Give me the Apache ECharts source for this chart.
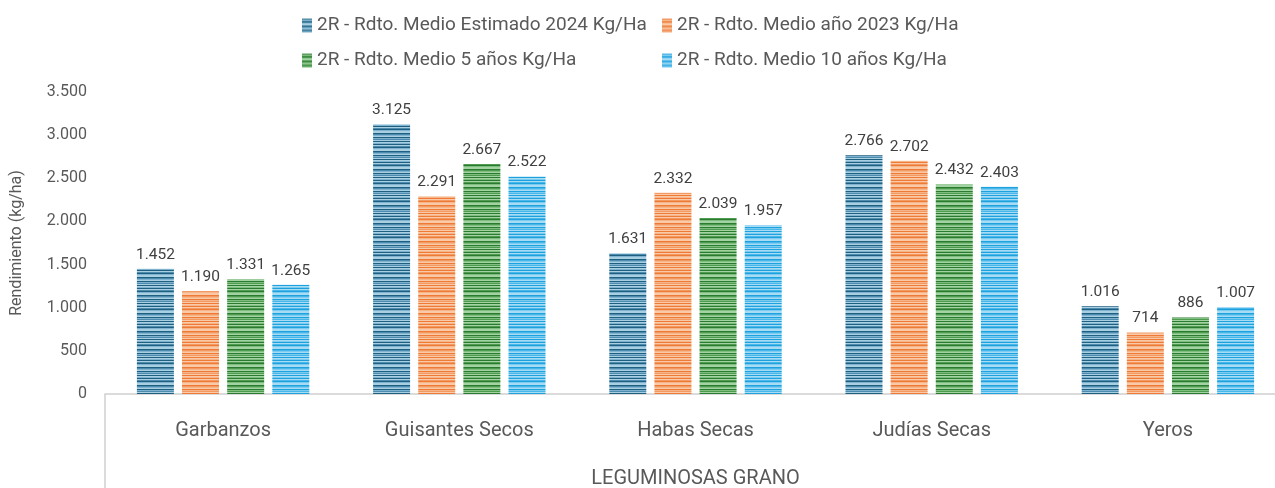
<!DOCTYPE html>
<html>
<head>
<meta charset="UTF-8">
<title>Leguminosas grano</title>
<script src="https://cdn.jsdelivr.net/npm/echarts@6/dist/echarts.min.js"></script>
<style>
  html, body { margin: 0; padding: 0; background: #fff; }
</style>
</head>
<body>
<div id="main" style="width: 1275px; height: 488px;"></div>
<script>
const categories = ['Garbanzos', 'Guisantes Secos', 'Habas Secas', 'Judías Secas', 'Yeros'];
const seriesNames = [
  '2R - Rdto. Medio Estimado 2024 Kg/Ha',
  '2R - Rdto. Medio año 2023 Kg/Ha',
  '2R - Rdto. Medio 5 años Kg/Ha',
  '2R - Rdto. Medio 10 años Kg/Ha'
];
const est2024 = [1452, 3125, 1631, 2766, 1016];
const med2023 = [1190, 2291, 2332, 2702, 714];
const med5 = [1331, 2667, 2039, 2432, 886];
const med10 = [1265, 2522, 1957, 2403, 1007];
const yTicks = [0, 500, 1000, 1500, 2000, 2500, 3000, 3500];

// striped fills, like the Excel texture
const palettes = [
  ['#1f5f80', '#a9cfe2', '#4d8cae', '#7fb2cf'],
  ['#ee7a36', '#f9c9a8', '#f29a62', '#f6b489'],
  ['#2a7a30', '#a3d3a3', '#4f9c50', '#7dbd7d'],
  ['#1ea2de', '#a8dcf5', '#4ab7ea', '#7ccbf1']
];
const rows = [0, 1, 2, 0, 3, 1, 1, 0, 2, 3, 1, 0, 3, 2, 1, 0, 1, 3];
function stripes(p) {
  const c = document.createElement('canvas');
  c.width = 4; c.height = rows.length;
  const ctx = c.getContext('2d');
  rows.forEach((r, i) => { ctx.fillStyle = p[r]; ctx.fillRect(0, i, 4, 1); });
  return { image: c, repeat: 'repeat' };
}

const fmt = v => String(v).replace(/\B(?=(\d{3})+(?!\d))/g, '.');
const font = 'Roboto, "Liberation Sans", sans-serif';
const values = [est2024, med2023, med5, med10];

const legendBase = {
  orient: 'vertical', top: 11, itemGap: 16,
  itemWidth: 10, itemHeight: 14, icon: 'rect',
  textStyle: { fontSize: 19, color: '#595959', fontFamily: font }
};

const chart = echarts.init(document.getElementById('main'));
chart.setOption({
  animation: false,
  textStyle: { fontFamily: font },
  legend: [
    Object.assign({ data: [seriesNames[0], seriesNames[2]], left: 297 }, legendBase),
    Object.assign({ data: [seriesNames[1], seriesNames[3]], left: 657 }, legendBase)
  ],
  grid: { left: 105, top: 92, width: 1181, height: 302, outerBoundsMode: 'none', containLabel: false },
  xAxis: {
    type: 'category',
    data: categories,
    name: 'LEGUMINOSAS GRANO',
    nameLocation: 'middle',
    nameGap: 75,
    nameTextStyle: { fontSize: 20, color: '#595959' },
    axisLine: { lineStyle: { color: '#d0d0d0', width: 1.5 } },
    axisTick: { show: true, length: 100, interval: (i) => i === 0, lineStyle: { color: '#d0d0d0', width: 1.5 } },
    axisLabel: { fontSize: 20, color: '#595959', margin: 27 }
  },
  yAxis: {
    type: 'value',
    min: 0, max: 3500, interval: 500,
    name: 'Rendimiento (kg/ha)',
    nameLocation: 'middle',
    nameGap: 80,
    nameTextStyle: { fontSize: 16, color: '#595959' },
    axisLine: { show: false },
    axisTick: { show: false },
    splitLine: { show: false },
    axisLabel: { fontSize: 16, color: '#595959', margin: 18, formatter: v => fmt(v) }
  },
  series: values.map((vals, i) => ({
    name: seriesNames[i],
    type: 'bar',
    data: vals,
    barWidth: 37,
    barGap: '22%',
    itemStyle: { color: stripes(palettes[i]) },
    label: {
      show: true, position: 'top', distance: 6,
      fontSize: 15.5, color: '#404040',
      formatter: p => fmt(p.value)
    }
  }))
});
</script>
</body>
</html>
